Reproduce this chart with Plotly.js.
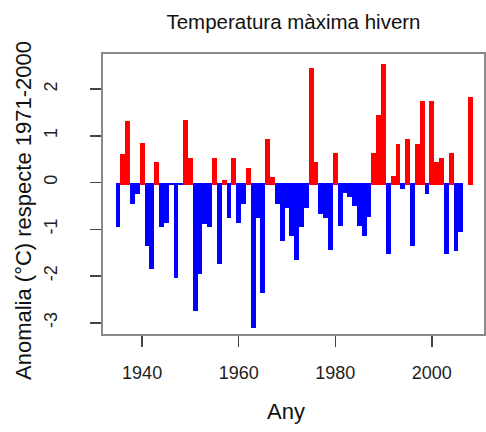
<!DOCTYPE html>
<html>
<head>
<meta charset="utf-8">
<script src="https://cdn.plot.ly/plotly-3.0.1.min.js"></script>
<style>
  html, body { margin: 0; padding: 0; background: #fff; }
  #chart { width: 486px; height: 432px; }
</style>
</head>
<body>
<div id="chart"></div>
<script>
// Winter maximum temperature anomaly (°C) relative to 1971-2000, one value per year
const years = [
  1935, 1936, 1937, 1938, 1939, 1940, 1941, 1942, 1943, 1944,
  1945, 1946, 1947, 1948, 1949, 1950, 1951, 1952, 1953, 1954,
  1955, 1956, 1957, 1958, 1959, 1960, 1961, 1962, 1963, 1964,
  1965, 1966, 1967, 1968, 1969, 1970, 1971, 1972, 1973, 1974,
  1975, 1976, 1977, 1978, 1979, 1980, 1981, 1982, 1983, 1984,
  1985, 1986, 1987, 1988, 1989, 1990, 1991, 1992, 1993, 1994,
  1995, 1996, 1997, 1998, 1999, 2000, 2001, 2002, 2003, 2004,
  2005, 2006, 2007, 2008
];
const anomaly = [
  -0.96, 0.62, 1.32, -0.45, -0.25, 0.84, -1.36, -1.86, 0.43, -0.95,
  -0.86, -0.05, -2.05, -0.05, 1.33, 0.52, -2.75, -1.96, -0.88, -0.96,
  0.53, -1.75, 0.06, -0.75, 0.52, -0.86, -0.46, 0.32, -3.11, -0.76,
  -2.36, 0.93, 0.12, -0.46, -1.25, -0.55, -1.14, -1.66, -0.96, -0.54,
  2.44, 0.43, -0.68, -0.75, -1.45, 0.64, -0.93, -0.22, -0.30, -0.50,
  -0.93, -1.14, -0.73, 0.64, 1.45, 2.53, -1.53, 0.14, 0.83, -0.14,
  0.94, -1.35, 0.83, 1.74, -0.24, 1.74, 0.43, 0.53, -1.53, 0.63,
  -1.46, -1.06, null, 1.83
];

const xTickVals = [1940, 1960, 1980, 2000];
const yTickVals = [-3, -2, -1, 0, 1, 2];
const yTickText = ['-3', '-2', '-1', '0', '1', '2'];

// warm bars reach a little below the zero line, like thick round-capped strokes
const CAP = 0.06;
const warmY = anomaly.map(v => (v !== null && v > 0) ? v + CAP : null);
const coldY = anomaly.map(v => (v !== null && v <= 0) ? v : null);

const cold = {
  type: 'bar', x: years, y: coldY, base: 0, width: 1,
  marker: { color: '#0000FF', line: { width: 0 } },
  hoverinfo: 'skip'
};
const warm = {
  type: 'bar', x: years, y: warmY, base: -CAP, width: 1,
  marker: { color: '#FF0000', line: { width: 0 } },
  hoverinfo: 'skip'
};

const font = 'Liberation Sans, Arial, sans-serif';

const axisCommon = {
  showgrid: false, zeroline: false,
  showline: true, mirror: true, linecolor: '#8a8a8a', linewidth: 2,
  ticks: 'outside', ticklen: 11, tickwidth: 1.5, tickcolor: '#444',
  tickfont: { family: font, size: 18, color: '#222' }
};

const layout = {
  width: 486, height: 432,
  margin: { l: 103, r: 2, t: 54, b: 98 },
  paper_bgcolor: '#fff', plot_bgcolor: '#fff',
  showlegend: false, barmode: 'overlay', bargap: 0,
  title: {
    text: 'Temperatura màxima hivern',
    font: { family: font, size: 20.5, color: '#111' },
    x: 0.5, xref: 'paper', xanchor: 'center',
    y: 1 - 22 / 432, yref: 'container', yanchor: 'middle'
  },
  xaxis: Object.assign({}, axisCommon, {
    range: [1931.9, 2010.8],
    tickvals: xTickVals,
    ticklabelstandoff: 10
  }),
  yaxis: Object.assign({}, axisCommon, {
    range: [-3.24, 2.75],
    tickvals: yTickVals, ticktext: yTickText,
    tickangle: -90,
    ticklabelstandoff: 26
  }),
  annotations: [
    {
      text: 'Anomalia (°C) respecte 1971-2000',
      xref: 'paper', yref: 'paper', x: (23 - 103) / 381, y: (334 - 211) / 280,
      xanchor: 'center', yanchor: 'middle', textangle: -90, showarrow: false,
      font: { family: font, size: 22, color: '#111' }
    },
    {
      text: 'Any',
      xref: 'paper', yref: 'paper', x: (286 - 103) / 381, y: (334 - 411) / 280,
      xanchor: 'center', yanchor: 'middle', showarrow: false,
      font: { family: font, size: 22, color: '#111' }
    }
  ]
};

Plotly.newPlot('chart', [cold, warm], layout, { displayModeBar: false, staticPlot: true });
</script>
</body>
</html>
